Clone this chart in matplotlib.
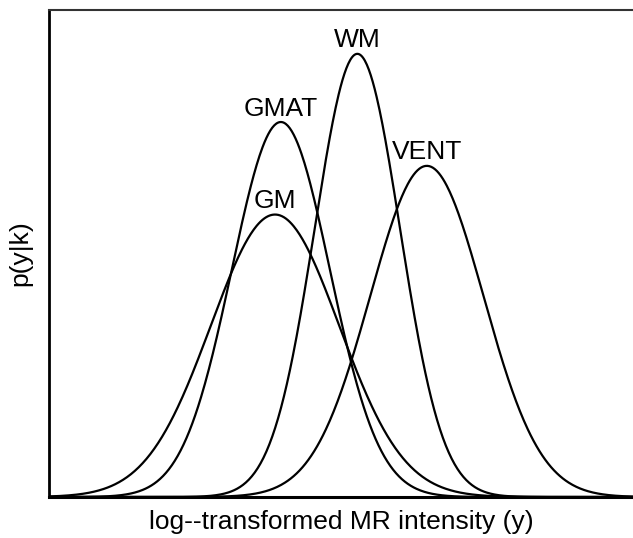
import numpy as np
import matplotlib
matplotlib.use("Agg")
import matplotlib.pyplot as plt

# Class-conditional intensity densities p(y|k)
classes = ["GM", "GMAT", "WM", "VENT"]
means = [3.87, 3.97, 5.28, 6.47]
sigmas = [1.10, 0.84, 0.73, 0.97]
peaks = [0.58, 0.77, 0.91, 0.68]

plt.rcParams["font.family"] = ["Liberation Sans", "DejaVu Sans"]

fig = plt.figure(figsize=(6.33, 5.38), dpi=100)
ax = fig.add_axes([0.0774, 0.0762, 0.9226, 0.9052])

y = np.linspace(0, 10, 600)
for name, mu, sd, pk in zip(classes, means, sigmas, peaks):
    dens = pk * np.exp(-0.5 * ((y - mu) / sd) ** 2)
    ax.plot(y, dens, color="black", lw=1.6)
    ax.annotate(name, (mu, pk), xytext=(0, 1), textcoords="offset points",
                ha="center", va="bottom", fontsize=19)

ax.set_xlim(0, 10)
ax.set_ylim(0, 1)
ax.set_xticks([])
ax.set_yticks([])
ax.spines["right"].set_visible(False)
ax.spines["left"].set_linewidth(2)
ax.spines["bottom"].set_linewidth(2.2)
ax.spines["top"].set_linewidth(1.5)
ax.spines["top"].set_color("#333333")

ax.set_xlabel("log--transformed MR intensity (y)", fontsize=19, labelpad=9)
ax.set_ylabel("p(y|k)", fontsize=19, labelpad=12)

fig.savefig("out.png", dpi=100)
